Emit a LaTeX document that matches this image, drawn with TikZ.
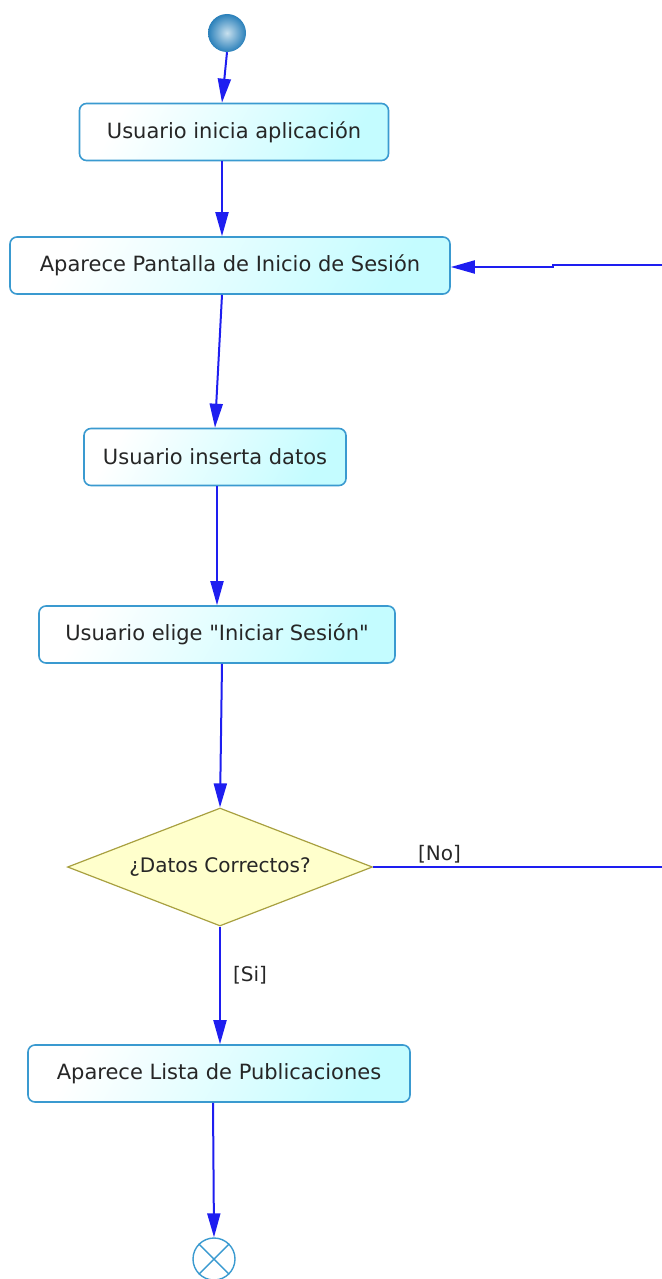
\documentclass[tikz,border=0pt]{standalone}
\usepackage{fontspec}
\setmainfont{DejaVu Sans}[Ligatures=TeXOff]
\usetikzlibrary{arrows.meta,shapes.geometric}
\definecolor{flujo}{HTML}{1E1EF0}
\definecolor{borde}{HTML}{3A9AD0}
\definecolor{celeste}{HTML}{C4FCFF}
\definecolor{amarillo}{HTML}{FFFFCC}
\definecolor{oliva}{HTML}{A8A040}
\definecolor{bolaIn}{HTML}{C8E0EE}
\definecolor{bolaOut}{HTML}{2A80BA}

\tikzset{
  actividad/.style={draw=borde, line width=1.6pt, rounded corners=7pt,
    left color=white, right color=celeste, shading angle=60,
    minimum height=57pt, inner sep=0pt, text=black!85,
    font=\fontsize{21}{25}\selectfont},
  decision/.style={diamond, draw=oliva, line width=1.2pt, fill=amarillo,
    minimum width=305pt, minimum height=118pt, aspect=2.58, inner sep=0pt,
    text=black!85, font=\fontsize{20}{24}\selectfont},
  flecha/.style={draw=flujo, line width=2pt, -{Triangle[length=24pt,width=13pt]}},
  guarda/.style={text=black!85, font=\fontsize{20}{24}\selectfont},
}

\begin{document}
\begin{tikzpicture}[x=1pt, y=-1pt]
  \useasboundingbox (0,0) rectangle (661,1279);
  \def\rs{19}  % radius of the start ball
  \def\rf{21}  % radius of the final node
  % start and activities
  \node[circle, minimum size=2*\rs pt, inner sep=0pt,
        inner color=bolaIn, outer color=bolaOut] (inicio) at (227,33) {};
  \node[actividad, minimum width=309pt] (inicia)   at (234,132)    {Usuario inicia aplicación};
  \node[actividad, minimum width=440pt] (pantalla) at (230,265.5)  {Aparece Pantalla de Inicio de Sesión};
  \node[actividad, minimum width=262pt] (inserta)  at (215,457)    {Usuario inserta datos};
  \node[actividad, minimum width=356pt] (elige)    at (217,634.5)  {Usuario elige "Iniciar Sesión"};
  \node[decision] (datos) at (220,867) {¿Datos Correctos?};
  \node[actividad, minimum width=382pt] (lista)    at (219,1073.5) {Aparece Lista de Publicaciones};
  % final node (circle with cross)
  \node[circle, draw=borde, line width=1.4pt, minimum size=2*\rf pt, inner sep=0pt] (fin) at (214,1259) {};
  \draw[borde, line width=1.4pt] (fin.north west) -- (fin.south east)
    (fin.north east) -- (fin.south west);
  % flow
  \draw[flecha] (inicio.south) -- ([xshift=-12pt]inicia.north);
  \draw[flecha] ([xshift=-12pt]inicia.south) -- ([xshift=-12pt]inicia.south |- pantalla.north);
  \draw[flecha] ([xshift=-8pt]pantalla.south) -- (inserta.north);
  \draw[flecha] ([xshift=2pt]inserta.south) -- (elige.north);
  \draw[flecha] ([xshift=5pt]elige.south) -- (datos.north);
  \draw[flecha] (datos.south) -- node[guarda, pos=0.41, right, inner sep=12pt] {[Si]} (datos.south |- lista.north);
  \draw[flecha] ([xshift=-6pt]lista.south) -- (fin.north);
  % [No] goes back round the right edge
  \coordinate (salto) at (553,265);
  \draw[flecha] (datos.east) -- node[guarda, pos=0.226, above, inner sep=3pt] {[No]} (667,867)
    -- (667,265) -- (salto) -- ([yshift=-2pt]salto) -- ([yshift=-1.5pt]pantalla.east);
\end{tikzpicture}
\end{document}
